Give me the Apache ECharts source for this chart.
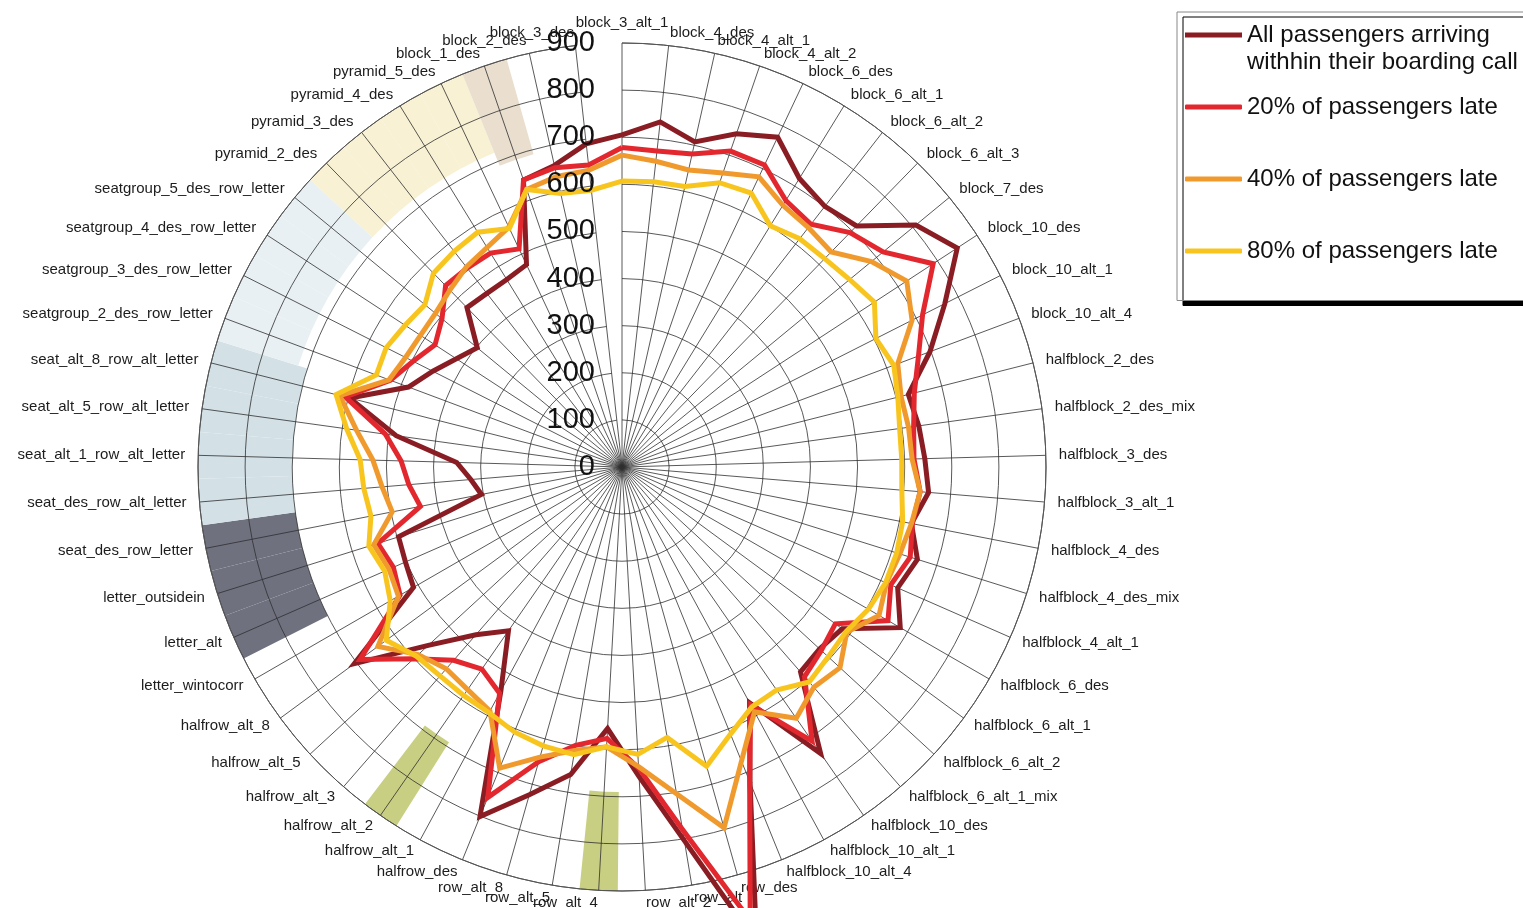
<!DOCTYPE html>
<html><head><meta charset="utf-8">
<script src="https://cdn.jsdelivr.net/npm/echarts@6/dist/echarts.min.js"></script>
<style>html,body{margin:0;padding:0;background:#fff}#c{width:1523px;height:908px}</style>
</head><body><div id="c"></div>
<script>
const categories = ['block_3_alt_1','block_4_des','block_4_alt_1','block_4_alt_2','block_6_des','block_6_alt_1','block_6_alt_2','block_6_alt_3','block_7_des','block_10_des','block_10_alt_1','block_10_alt_4','halfblock_2_des','halfblock_2_des_mix','halfblock_3_des','halfblock_3_alt_1','halfblock_4_des','halfblock_4_des_mix','halfblock_4_alt_1','halfblock_6_des','halfblock_6_alt_1','halfblock_6_alt_2','halfblock_6_alt_1_mix','halfblock_10_des','halfblock_10_alt_1','halfblock_10_alt_4','row_des','row_alt','row_alt_2','row_alt_4','row_alt_5','row_alt_8','halfrow_des','halfrow_alt_1','halfrow_alt_2','halfrow_alt_3','halfrow_alt_5','halfrow_alt_8','letter_wintocorr','letter_alt','letter_outsidein','seat_des_row_letter','seat_des_row_alt_letter','seat_alt_1_row_alt_letter','seat_alt_5_row_alt_letter','seat_alt_8_row_alt_letter','seatgroup_2_des_row_letter','seatgroup_3_des_row_letter','seatgroup_4_des_row_letter','seatgroup_5_des_row_letter','pyramid_2_des','pyramid_3_des','pyramid_4_des','pyramid_5_des','block_1_des','block_2_des','block_3_des'];

const allOnTime = [705,737,707,748,774,719,701,714,808,850,768,698,627,636,643,653,626,657,639,682,580,570,577,740,569,722,1050,804,658,556,662,723,801,540,423,472,559,705,511,502,497,304,322,351,484,596,484,450,420,398,472,467,467,475,644,656,690];
const late20 = [678,675,681,709,709,664,653,694,718,789,715,672,640,625,620,635,628,641,623,652,562,575,590,708,574,720,1000,780,640,577,599,650,757,546,522,544,601,690,544,530,543,436,454,469,507,606,525,497,474,495,537,535,533,512,644,651,645];
const late40 = [662,653,646,660,681,652,644,637,686,722,690,625,611,614,616,635,626,618,613,630,592,629,620,649,591,674,796,703,637,595,610,640,690,589,575,568,588,643,548,540,552,497,511,529,569,618,528,515,511,513,524,538,547,563,623,632,634];
const late80 = [607,609,610,638,643,601,614,617,626,640,604,616,604,595,594,596,607,611,611,604,590,595,605,576,579,612,660,582,611,595,619,615,607,593,590,588,593,621,568,550,563,543,550,556,590,626,557,561,550,542,574,580,585,560,623,595,591];

const seriesNames = ['All passengers arriving\nwithhin their boarding call','20% of passengers late','40% of passengers late','80% of passengers late'];
const radiusTicks = [0,100,200,300,400,500,600,700,800,900];

// shaded category groups (outer ring)
const greyBand = ['letter_alt','letter_outsidein','seat_des_row_letter'];
const seatBand = ['seat_des_row_alt_letter','seat_alt_1_row_alt_letter','seat_alt_5_row_alt_letter','seat_alt_8_row_alt_letter'];
const seatgroupBand = ['seatgroup_2_des_row_letter','seatgroup_3_des_row_letter','seatgroup_4_des_row_letter','seatgroup_5_des_row_letter'];
const pyramidBand = ['pyramid_2_des','pyramid_3_des','pyramid_4_des','pyramid_5_des'];
const block1Band = ['block_1_des'];
const oliveBand = ['row_alt_4','halfrow_alt_2'];
const bandInner = [700, 700, 720, 720, 690];
const oliveInner = 690;

// ---- styling / build ----
const lineColors = ['#8a1d23','#e2282e','#f09a2d','#f8c51f'];
const bandColors = ['#6f717f','#d3e1e7','#e9f0f3','#f8f1d3','#eadfce'];
const oliveColor = '#c9cf82';
const gridColor = '#2e2e2e';
const FONT = '"Liberation Sans", Arial, Helvetica, sans-serif';
const CX = 622, CY = 467, R = 424;
const maxV = radiusTicks[radiusTicks.length - 1];

const bands = [greyBand, seatBand, seatgroupBand, pyramidBand, block1Band];
const baseData = [], fillData = [];
categories.forEach(c => {
  let found = -1;
  bands.forEach((b, i) => { if (b.indexOf(c) >= 0) found = i; });
  if (found >= 0) {
    baseData.push(bandInner[found]);
    fillData.push({ value: maxV - bandInner[found], itemStyle: { color: bandColors[found] } });
  } else { baseData.push(0); fillData.push(0); }
});
const oliveBase = categories.map(c => oliveBand.indexOf(c) >= 0 ? oliveInner : 0);
const oliveFill = categories.map(c => oliveBand.indexOf(c) >= 0 ? maxV - oliveInner : 0);

// radar goes counter-clockwise; reverse to run clockwise from top
const order = [0];
for (let k = categories.length - 1; k >= 1; k--) order.push(k);
const seriesValues = [allOnTime, late20, late40, late80];

const chart = echarts.init(document.getElementById('c'), null, { renderer: 'canvas' });
const option = {
  backgroundColor: '#fff',
  animation: false,
  color: lineColors,
  textStyle: { fontFamily: FONT },
  polar: [
    { center: [CX, CY], radius: R },
    { center: [CX, CY], radius: R }
  ],
  angleAxis: [
    { polarIndex: 0, type: 'category', data: categories, startAngle: 90, boundaryGap: false, z: 3,
      axisLine: { show: true, lineStyle: { color: '#555', width: 1 } },
      axisTick: { show: false, interval: 0 }, axisLabel: { show: false, interval: 0 },
      splitLine: { show: true, interval: 0, lineStyle: { color: gridColor, width: 0.8 } } },
    { polarIndex: 1, type: 'category', data: categories, startAngle: 90, boundaryGap: false,
      axisLine: { show: false }, axisTick: { show: false }, axisLabel: { show: false }, splitLine: { show: false } }
  ],
  radiusAxis: [
    { polarIndex: 0, type: 'value', min: radiusTicks[0], max: maxV, interval: radiusTicks[1] - radiusTicks[0], z: 3,
      axisLine: { show: false }, axisTick: { show: false },
      splitLine: { show: true, lineStyle: { color: gridColor, width: 0.8 } },
      axisLabel: { show: false } },
    { polarIndex: 1, type: 'value', min: radiusTicks[0], max: maxV, interval: radiusTicks[1] - radiusTicks[0], z: 20,
      axisLine: { show: false }, axisTick: { show: false }, splitLine: { show: false },
      axisLabel: { show: true, fontSize: 29, color: '#111', margin: 27, fontFamily: FONT } }
  ],
  radar: {
    center: [CX, CY], radius: R, startAngle: 90, shape: 'circle', splitNumber: 9,
    indicator: order.map(k => ({ name: categories[k], min: 0, max: maxV })),
    nameGap: 13,
    axisName: { color: '#1c1c1c', fontSize: 15, fontFamily: FONT },
    splitLine: { show: false }, splitArea: { show: false }, axisLine: { show: false },
    axisTick: { show: false }, axisLabel: { show: false }
  },
  legend: [
    { left: 1185, top: 21.5, padding: 0, z: 10, selectedMode: false,
      itemWidth: 57, itemHeight: 54, itemGap: 0,
      textStyle: { fontSize: 24, lineHeight: 27, color: '#111', fontFamily: FONT },
      data: [{ name: seriesNames[0], icon: 'path://M0,0L0.1,0M0,11H57V16H0ZM0,54L0.1,54',
               itemStyle: { color: lineColors[0] } }] },
    { left: 1177, top: 12, padding: [81.5, 60, 36, 8], z: 2, selectedMode: false,
      itemWidth: 57, itemHeight: 5, itemGap: 45,
      backgroundColor: '#fff', borderColor: '#888', borderWidth: 1,
      shadowColor: '#000', shadowBlur: 0, shadowOffsetX: 6, shadowOffsetY: 5,
      textStyle: { fontSize: 24, lineHeight: 27, color: '#111', fontFamily: FONT },
      data: seriesNames.slice(1).map((n, i) => ({ name: n, icon: 'roundRect',
               itemStyle: { color: lineColors[i + 1] } })) }
  ],
  series: [
    { type: 'bar', coordinateSystem: 'polar', polarIndex: 0, stack: 'band', barCategoryGap: '0%', z: 1, silent: true,
      itemStyle: { color: 'rgba(0,0,0,0)' }, data: baseData },
    { type: 'bar', coordinateSystem: 'polar', polarIndex: 0, stack: 'band', barCategoryGap: '0%', z: 1, silent: true,
      data: fillData },
    { type: 'bar', coordinateSystem: 'polar', polarIndex: 1, stack: 'olive', barCategoryGap: '18%', z: 1, silent: true,
      itemStyle: { color: 'rgba(0,0,0,0)' }, data: oliveBase },
    { type: 'bar', coordinateSystem: 'polar', polarIndex: 1, stack: 'olive', barCategoryGap: '18%', z: 1, silent: true,
      itemStyle: { color: oliveColor }, data: oliveFill }
  ].concat(seriesValues.map((vals, i) => ({
    type: 'radar', name: seriesNames[i], z: 5 + i, symbol: 'none', silent: true,
    color: lineColors[i],
    itemStyle: { color: lineColors[i] },
    lineStyle: { color: lineColors[i], width: 5, join: 'miter' },
    data: [{ name: seriesNames[i], value: order.map(k => vals[k]),
      lineStyle: { color: lineColors[i], width: 5, join: 'miter' },
      itemStyle: { color: lineColors[i] } }]
  })))
};
chart.setOption(option);
</script></body></html>
